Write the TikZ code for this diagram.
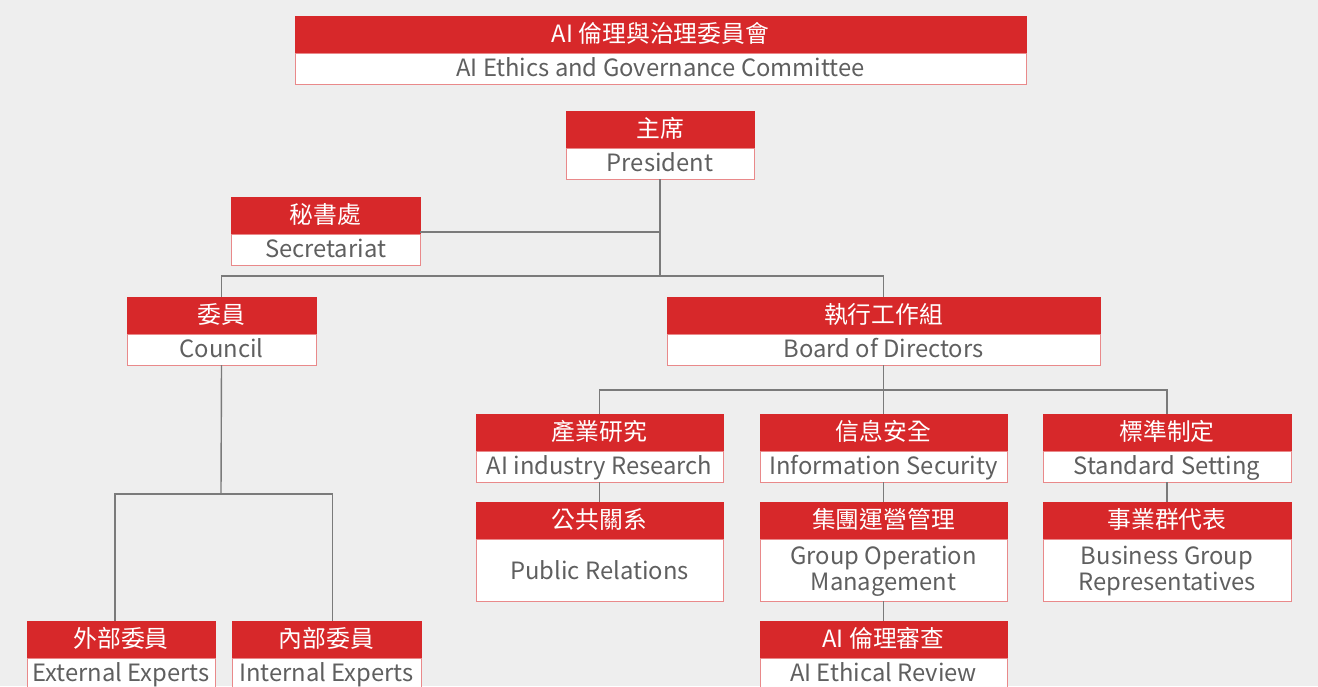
\documentclass[tikz,border=0pt]{standalone}
\usepackage{fontspec}
\setmainfont{Noto Sans CJK TC}
\usetikzlibrary{positioning}
\definecolor{boxred}{HTML}{D7282A}
\definecolor{linegrey}{HTML}{7A7A7A}
\definecolor{textgrey}{HTML}{5F5F5F}
\definecolor{bggrey}{HTML}{EEEEEE}

\begin{document}
\begin{tikzpicture}[x=1pt,y=-1pt,
    head/.style={fill=boxred, draw=boxred, text=white, anchor=north, minimum height=37pt,
      inner sep=0pt, outer sep=0pt, text height=17pt, text depth=2pt,
      font=\fontsize{23.8}{26.5}\selectfont},
    body/.style={fill=white, draw=boxred!55, text=textgrey, inner sep=0pt, outer sep=0pt,
      align=center, text depth=2pt, font=\fontsize{23.8}{26.5}\selectfont},
    link/.style={draw=linegrey, line width=1.4pt}]
        \fill[bggrey] (0,0) rectangle (1318,686);
        \useasboundingbox (0,0) rectangle (1318,686);
        \foreach \n/\x/\y/\w/\h/\t/\cn/\en in {
            aic/660.5/16/731/31/17/{AI 倫理與治理委員會}/{AI Ethics and Governance Committee},
            pres/660/111/188/31/17/{主席}/{President},
            sec/325.5/197/189/31/17/{秘書處}/{Secretariat},
            council/221.5/297/189/31/17/{委員}/{Council},
            board/883.5/297/433/31/17/{執行工作組}/{Board of Directors},
            ind/599.5/414/247/31/18.5/{產業研究}/{AI industry Research},
            info/883.5/414/247/31/18.5/{信息安全}/{Information Security},
            std/1167/414/248/31/18.5/{標準制定}/{Standard Setting},
            pr/599.5/502/247/62/20/{公共關系}/{Public Relations},
            grp/883.5/502/247/62/43.5/{集團運營管理}/{Group Operation\\Management},
            biz/1167/502/248/62/43.5/{事業群代表}/{Business Group\\Representatives},
            rev/883.5/621/247/31/17/{AI 倫理審查}/{AI Ethical Review},
            ext/121/621/188/31/17/{外部委員}/{External Experts},
            int/326.5/621/189/31/17/{內部委員}/{Internal Experts}} {
            \node[head, minimum width=\w pt] (\n) at (\x,\y) {\cn};
            \node[body, minimum width=\w pt, minimum height=\h pt, text height=\t pt,
              below=0pt of \n] (\n-b) {\en};
        }
        \coordinate (fork1) at (660,276);
        \coordinate (fork2) at (221,494);
        \coordinate (fork3) at (883.5,390);
        \draw[link] (pres-b.south) -- (fork1);
        \draw[link] (council.north) |- (fork1) -| (board.north);
        \draw[link] ([yshift=2pt]sec.south east) -- ([yshift=2pt]sec.south east -| pres-b.south);
        \draw[link] (council-b.south) -- (fork2);
        \draw[link] ([xshift=-6pt]ext.north) |- (fork2) -| ([xshift=6pt]int.north);
        \draw[link] (board-b.south) -- (fork3);
        \draw[link] (ind.north) |- (fork3) -| (std.north);
        \draw[link] (fork3) -- (info.north);
        \draw[link] (ind-b.south) -- (pr.north);
        \draw[link] (info-b.south) -- (grp.north);
        \draw[link] (grp-b.south) -- (rev.north);
        \draw[link] (std-b.south) -- (biz.north);
    \end{tikzpicture}
\end{document}
